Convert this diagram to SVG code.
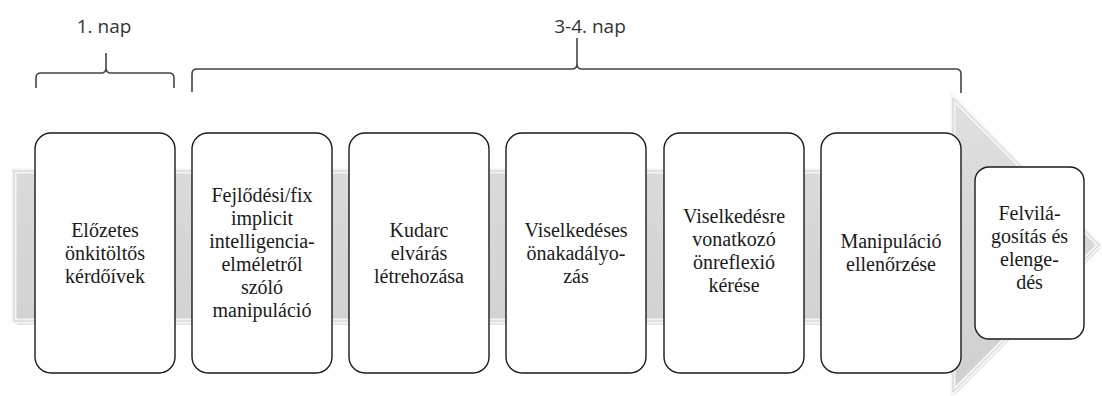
<svg xmlns="http://www.w3.org/2000/svg" width="1102" height="396" viewBox="0 0 1102 396">
<style>
.box{fill:#fff;stroke:#1a1a1a;stroke-width:1.4}
.t{font-family:"Liberation Serif","Times New Roman",serif;font-size:20px;fill:#1a1a1a;text-anchor:middle}
.h{font-family:"Open Sans","Liberation Sans",sans-serif;font-size:19px;fill:#333;text-anchor:middle}
.br{fill:none;stroke:#444;stroke-width:1.6;stroke-linejoin:round}
</style>
<defs>
<linearGradient id="shade" x1="0" y1="0" x2="0" y2="1">
<stop offset="0" stop-color="#e0e0e0"/>
<stop offset="0.5" stop-color="#d6d6d6"/>
<stop offset="1" stop-color="#d0d0d0"/>
</linearGradient>
</defs>
<rect width="1102" height="396" fill="#fff"/>
<g id="arrow">
<polygon points="17,175 955,175 955,101 1101,248 955,395 955,325 17,325" fill="#cfcfcf" opacity="0.6"/>
<polygon points="14,171 953,171 953,98 1099,245 953,392 953,321 14,321" fill="url(#shade)" stroke="#f4f4f4" stroke-width="5" stroke-linejoin="miter"/>
<polygon points="14,171 953,171 953,98 1099,245 953,392 953,321 14,321" fill="none" stroke="#c4c4c4" stroke-width="0.8"/>
</g>
<g id="brackets">
<path class="br" d="M36,88 V78 Q36,73 41,73 H101 Q106,73 106,68 V53 M106,68 Q106,73 111,73 H169 Q174,73 174,78 V88"/>
<path class="br" d="M192,92 V74 Q192,69 197,69 H572 Q577,69 577,64 V38 M577,64 Q577,69 582,69 H956 Q961,69 961,74 V93"/>
<text class="h" x="104" y="33">1. nap</text>
<text class="h" x="590" y="33">3-4. nap</text>
</g>
<g id="n1">
<rect class="box" x="35" y="133" width="140" height="240" rx="16"/>
<text class="t" x="105" y="237">Előzetes</text>
<text class="t" x="105" y="260">önkitöltős</text>
<text class="t" x="105" y="283">kérdőívek</text>
</g>
<g id="n2">
<rect class="box" x="192" y="133" width="140" height="240" rx="16"/>
<text class="t" x="262" y="202">Fejlődési/fix</text>
<text class="t" x="262" y="225">implicit</text>
<text class="t" x="262" y="248">intelligencia-</text>
<text class="t" x="262" y="271">elméletről</text>
<text class="t" x="262" y="294">szóló</text>
<text class="t" x="262" y="317">manipuláció</text>
</g>
<g id="n3">
<rect class="box" x="349" y="133" width="140" height="240" rx="16"/>
<text class="t" x="419" y="237">Kudarc</text>
<text class="t" x="419" y="260">elvárás</text>
<text class="t" x="419" y="283">létrehozása</text>
</g>
<g id="n4">
<rect class="box" x="506" y="133" width="140" height="240" rx="16"/>
<text class="t" x="576" y="237">Viselkedéses</text>
<text class="t" x="576" y="260">önakadályo-</text>
<text class="t" x="576" y="283">zás</text>
</g>
<g id="n5">
<rect class="box" x="664" y="133" width="140" height="240" rx="16"/>
<text class="t" x="734" y="223">Viselkedésre</text>
<text class="t" x="734" y="246">vonatkozó</text>
<text class="t" x="734" y="269">önreflexió</text>
<text class="t" x="734" y="292">kérése</text>
</g>
<g id="n6">
<rect class="box" x="821" y="133" width="140" height="240" rx="16"/>
<text class="t" x="891" y="248">Manipuláció</text>
<text class="t" x="891" y="271">ellenőrzése</text>
</g>
<g id="n7">
<rect class="box" x="975" y="167" width="109" height="172" rx="14"/>
<text class="t" x="1029.5" y="220">Felvilá-</text>
<text class="t" x="1029.5" y="243">gosítás és</text>
<text class="t" x="1029.5" y="266">elenge-</text>
<text class="t" x="1029.5" y="289">dés</text>
</g>
</svg>
